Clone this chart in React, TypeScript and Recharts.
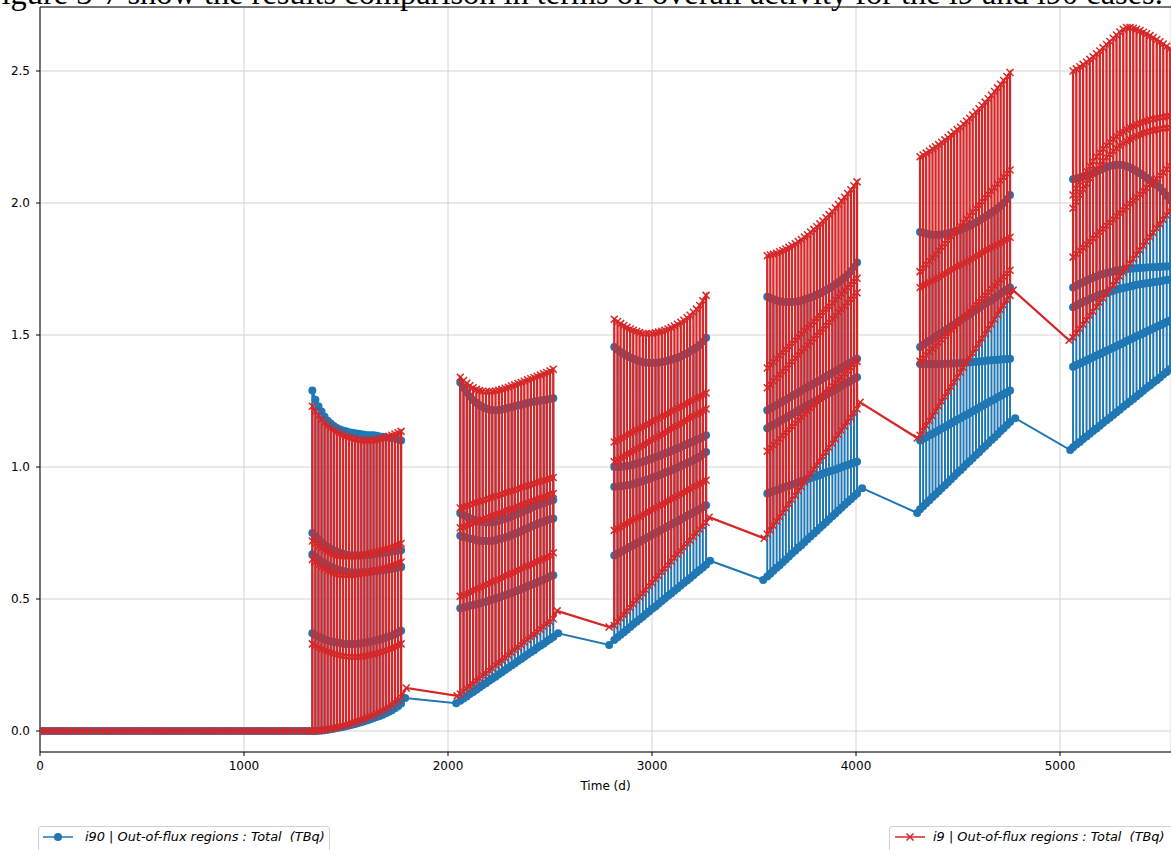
import React from 'react';
import { LineChart, Line, XAxis, YAxis, CartesianGrid, ReferenceLine, Label } from 'recharts';

const BLUE = '#1f77b4';
const RED = '#d62728';

const X_MAX = 5544;
const Y_MIN = -0.0795;
const Y_MAX = 2.7424;
const X_TICKS = [0, 1000, 2000, 3000, 4000, 5000];
const Y_TICKS = [0, 0.5, 1.0, 1.5, 2.0, 2.5];

// Days before the first irradiation cycle: both cases sit at zero
const FLAT_T = [
  0, 20, 40, 60, 80, 100, 120, 140, 160, 180, 200, 220, 240, 260, 280, 300, 320, 340, 360, 380,
  400, 420, 440, 460, 480, 500, 520, 540, 560, 580, 600, 620, 640, 660, 680, 700, 720, 740, 760, 780,
  800, 820, 840, 860, 880, 900, 920, 940, 960, 980, 1000, 1020, 1040, 1060, 1080, 1100, 1120, 1140,
  1160, 1180, 1200, 1220, 1240, 1260, 1280, 1300, 1320,
];
const FLAT_LEVEL = 0;

// Cycle 1
const C1_T = [1335, 1350, 1365, 1380, 1395, 1410, 1425, 1440, 1455, 1470, 1485, 1500, 1515, 1530, 1545, 1560, 1575, 1590, 1605, 1620, 1635, 1650, 1665, 1680, 1695, 1710, 1725, 1740, 1755, 1770];
const C1_I90_BASE = [0, 0, 0.001, 0.002, 0.003, 0.005, 0.007, 0.009, 0.011, 0.013, 0.015, 0.018, 0.021, 0.024, 0.027, 0.03, 0.033, 0.037, 0.041, 0.045, 0.049, 0.053, 0.057, 0.062, 0.067, 0.073, 0.079, 0.086, 0.094, 0.104];
const C1_I90_TOP = [1.29, 1.255, 1.23, 1.21, 1.19, 1.175, 1.165, 1.155, 1.148, 1.142, 1.138, 1.135, 1.132, 1.13, 1.128, 1.126, 1.124, 1.122, 1.12, 1.12, 1.12, 1.118, 1.116, 1.115, 1.113, 1.111, 1.11, 1.108, 1.105, 1.1];
const C1_I90_M1 = [0.75, 0.738, 0.726, 0.715, 0.705, 0.697, 0.69, 0.684, 0.679, 0.675, 0.671, 0.668, 0.666, 0.665, 0.665, 0.665, 0.665, 0.666, 0.667, 0.668, 0.67, 0.671, 0.673, 0.675, 0.676, 0.678, 0.68, 0.682, 0.684, 0.685];
const C1_I90_M2 = [0.67, 0.66, 0.65, 0.642, 0.635, 0.628, 0.622, 0.617, 0.613, 0.609, 0.606, 0.603, 0.601, 0.6, 0.6, 0.6, 0.6, 0.601, 0.602, 0.603, 0.605, 0.606, 0.608, 0.61, 0.611, 0.613, 0.615, 0.617, 0.619, 0.62];
const C1_I90_M3 = [0.37, 0.363, 0.357, 0.352, 0.347, 0.343, 0.34, 0.337, 0.335, 0.333, 0.331, 0.33, 0.33, 0.33, 0.33, 0.331, 0.332, 0.334, 0.336, 0.338, 0.341, 0.344, 0.347, 0.35, 0.354, 0.358, 0.362, 0.367, 0.373, 0.38];
const C1_I9_BASE = [0, 0, 0.001, 0.003, 0.005, 0.007, 0.009, 0.011, 0.014, 0.017, 0.02, 0.023, 0.026, 0.03, 0.034, 0.038, 0.042, 0.046, 0.051, 0.056, 0.061, 0.066, 0.072, 0.078, 0.084, 0.091, 0.099, 0.107, 0.117, 0.128];
const C1_I9_TOP = [1.23, 1.21, 1.195, 1.18, 1.168, 1.157, 1.148, 1.14, 1.133, 1.127, 1.121, 1.116, 1.112, 1.108, 1.105, 1.103, 1.101, 1.1, 1.1, 1.1, 1.101, 1.103, 1.106, 1.109, 1.112, 1.116, 1.12, 1.125, 1.13, 1.135];
const C1_I9_M1 = [0.72, 0.71, 0.7, 0.692, 0.685, 0.678, 0.672, 0.667, 0.663, 0.661, 0.66, 0.66, 0.66, 0.66, 0.661, 0.663, 0.665, 0.668, 0.671, 0.674, 0.677, 0.68, 0.684, 0.687, 0.69, 0.694, 0.697, 0.701, 0.705, 0.71];
const C1_I9_M2 = [0.65, 0.64, 0.63, 0.622, 0.615, 0.608, 0.602, 0.597, 0.593, 0.591, 0.59, 0.59, 0.59, 0.59, 0.591, 0.593, 0.595, 0.598, 0.601, 0.604, 0.607, 0.61, 0.614, 0.617, 0.62, 0.624, 0.627, 0.631, 0.635, 0.64];
const C1_I9_M3 = [0.33, 0.323, 0.316, 0.31, 0.305, 0.3, 0.296, 0.292, 0.289, 0.286, 0.284, 0.282, 0.281, 0.28, 0.28, 0.28, 0.281, 0.283, 0.285, 0.288, 0.291, 0.294, 0.298, 0.302, 0.306, 0.31, 0.314, 0.319, 0.324, 0.33];

// Cycle 2
const C2_T = [2060, 2076, 2092, 2107, 2123, 2139, 2154, 2170, 2186, 2202, 2217, 2233, 2249, 2264, 2280, 2296, 2312, 2327, 2343, 2359, 2374, 2390, 2406, 2422, 2437, 2453, 2469, 2484, 2500, 2516];
const C2_I90_BASE = [0.115, 0.123, 0.131, 0.14, 0.148, 0.156, 0.165, 0.173, 0.181, 0.19, 0.198, 0.206, 0.215, 0.223, 0.231, 0.24, 0.248, 0.256, 0.265, 0.273, 0.281, 0.29, 0.298, 0.306, 0.315, 0.323, 0.331, 0.34, 0.348, 0.356];
const C2_I90_TOP = [1.32, 1.3, 1.282, 1.267, 1.254, 1.243, 1.234, 1.227, 1.222, 1.218, 1.216, 1.215, 1.216, 1.218, 1.221, 1.224, 1.227, 1.23, 1.233, 1.236, 1.239, 1.242, 1.245, 1.247, 1.25, 1.252, 1.254, 1.256, 1.258, 1.26];
const C2_I90_M1 = [0.825, 0.818, 0.812, 0.806, 0.801, 0.797, 0.794, 0.791, 0.79, 0.79, 0.791, 0.793, 0.796, 0.8, 0.804, 0.808, 0.813, 0.818, 0.823, 0.828, 0.834, 0.839, 0.845, 0.85, 0.855, 0.86, 0.864, 0.868, 0.872, 0.875];
const C2_I90_M2 = [0.74, 0.736, 0.732, 0.729, 0.726, 0.723, 0.721, 0.72, 0.72, 0.72, 0.721, 0.723, 0.726, 0.729, 0.733, 0.737, 0.742, 0.747, 0.752, 0.757, 0.763, 0.768, 0.774, 0.779, 0.784, 0.789, 0.794, 0.798, 0.802, 0.805];
const C2_I90_M3 = [0.465, 0.468, 0.471, 0.474, 0.477, 0.48, 0.483, 0.487, 0.49, 0.494, 0.498, 0.502, 0.506, 0.51, 0.514, 0.519, 0.523, 0.528, 0.533, 0.538, 0.543, 0.548, 0.553, 0.558, 0.563, 0.568, 0.574, 0.579, 0.585, 0.59];
const C2_I9_BASE = [0.14, 0.15, 0.16, 0.169, 0.179, 0.189, 0.199, 0.209, 0.218, 0.228, 0.238, 0.248, 0.258, 0.267, 0.277, 0.287, 0.297, 0.307, 0.316, 0.326, 0.336, 0.346, 0.356, 0.365, 0.375, 0.385, 0.395, 0.405, 0.414, 0.425];
const C2_I9_TOP = [1.34, 1.328, 1.317, 1.308, 1.3, 1.294, 1.29, 1.287, 1.285, 1.285, 1.286, 1.288, 1.291, 1.294, 1.298, 1.302, 1.307, 1.311, 1.316, 1.32, 1.325, 1.33, 1.334, 1.339, 1.344, 1.348, 1.353, 1.358, 1.364, 1.37];
const C2_I9_M1 = [0.845, 0.849, 0.853, 0.857, 0.861, 0.865, 0.869, 0.873, 0.877, 0.881, 0.885, 0.889, 0.893, 0.897, 0.901, 0.905, 0.909, 0.913, 0.917, 0.921, 0.925, 0.929, 0.933, 0.937, 0.941, 0.945, 0.949, 0.953, 0.957, 0.96];
const C2_I9_M2 = [0.77, 0.774, 0.779, 0.783, 0.788, 0.792, 0.797, 0.801, 0.806, 0.81, 0.815, 0.819, 0.824, 0.828, 0.833, 0.837, 0.842, 0.846, 0.851, 0.855, 0.86, 0.864, 0.869, 0.873, 0.878, 0.882, 0.887, 0.891, 0.896, 0.9];
const C2_I9_M3 = [0.51, 0.515, 0.521, 0.526, 0.532, 0.537, 0.543, 0.548, 0.554, 0.559, 0.565, 0.57, 0.576, 0.581, 0.587, 0.592, 0.598, 0.603, 0.609, 0.614, 0.62, 0.625, 0.631, 0.636, 0.642, 0.647, 0.653, 0.658, 0.664, 0.675];

// Cycle 3
const C3_T = [2815, 2831, 2846, 2862, 2877, 2893, 2908, 2924, 2939, 2955, 2970, 2986, 3001, 3017, 3032, 3048, 3063, 3079, 3094, 3110, 3125, 3141, 3156, 3172, 3187, 3203, 3218, 3234, 3249, 3265];
const C3_I90_BASE = [0.345, 0.355, 0.365, 0.374, 0.384, 0.394, 0.404, 0.414, 0.423, 0.433, 0.443, 0.453, 0.463, 0.472, 0.482, 0.492, 0.502, 0.512, 0.521, 0.531, 0.541, 0.551, 0.561, 0.57, 0.58, 0.59, 0.6, 0.61, 0.619, 0.63];
const C3_I90_TOP = [1.455, 1.445, 1.436, 1.428, 1.421, 1.415, 1.41, 1.405, 1.401, 1.398, 1.396, 1.395, 1.395, 1.395, 1.396, 1.398, 1.4, 1.403, 1.406, 1.41, 1.414, 1.419, 1.425, 1.431, 1.438, 1.445, 1.453, 1.462, 1.475, 1.49];
const C3_I90_M1 = [1.0, 1.0, 1.001, 1.002, 1.004, 1.006, 1.009, 1.012, 1.016, 1.02, 1.024, 1.028, 1.032, 1.037, 1.041, 1.046, 1.051, 1.056, 1.061, 1.066, 1.071, 1.076, 1.082, 1.087, 1.092, 1.097, 1.103, 1.108, 1.114, 1.12];
const C3_I90_M2 = [0.925, 0.926, 0.927, 0.929, 0.931, 0.933, 0.936, 0.939, 0.943, 0.947, 0.951, 0.955, 0.959, 0.964, 0.968, 0.973, 0.978, 0.983, 0.988, 0.993, 0.998, 1.004, 1.009, 1.015, 1.02, 1.026, 1.032, 1.039, 1.048, 1.057];
const C3_I90_M3 = [0.665, 0.672, 0.678, 0.685, 0.691, 0.698, 0.704, 0.711, 0.717, 0.724, 0.73, 0.737, 0.743, 0.75, 0.756, 0.763, 0.769, 0.776, 0.782, 0.789, 0.795, 0.802, 0.808, 0.815, 0.821, 0.828, 0.834, 0.841, 0.848, 0.855];
const C3_I9_BASE = [0.4, 0.413, 0.427, 0.44, 0.454, 0.467, 0.481, 0.494, 0.508, 0.521, 0.534, 0.548, 0.561, 0.575, 0.588, 0.602, 0.615, 0.628, 0.642, 0.655, 0.669, 0.682, 0.696, 0.709, 0.722, 0.736, 0.749, 0.763, 0.776, 0.79];
const C3_I9_TOP = [1.56, 1.551, 1.543, 1.536, 1.529, 1.523, 1.518, 1.513, 1.509, 1.506, 1.505, 1.505, 1.506, 1.508, 1.511, 1.514, 1.518, 1.523, 1.528, 1.534, 1.541, 1.548, 1.556, 1.565, 1.575, 1.586, 1.598, 1.612, 1.63, 1.65];
const C3_I9_M1 = [1.095, 1.101, 1.108, 1.114, 1.121, 1.127, 1.133, 1.14, 1.146, 1.152, 1.159, 1.165, 1.172, 1.178, 1.184, 1.191, 1.197, 1.203, 1.21, 1.216, 1.223, 1.229, 1.235, 1.242, 1.248, 1.254, 1.261, 1.267, 1.274, 1.28];
const C3_I9_M2 = [1.02, 1.027, 1.034, 1.041, 1.048, 1.054, 1.061, 1.068, 1.075, 1.082, 1.089, 1.096, 1.103, 1.11, 1.117, 1.123, 1.13, 1.137, 1.144, 1.151, 1.158, 1.165, 1.172, 1.179, 1.186, 1.192, 1.199, 1.206, 1.213, 1.22];
const C3_I9_M3 = [0.76, 0.767, 0.773, 0.78, 0.786, 0.793, 0.799, 0.806, 0.812, 0.819, 0.826, 0.832, 0.839, 0.845, 0.852, 0.858, 0.865, 0.871, 0.878, 0.884, 0.891, 0.898, 0.904, 0.911, 0.917, 0.924, 0.93, 0.937, 0.943, 0.95];

// Cycle 4
const C4_T = [3565, 3580, 3595, 3611, 3626, 3641, 3656, 3671, 3686, 3702, 3717, 3732, 3747, 3762, 3777, 3793, 3808, 3823, 3838, 3853, 3868, 3884, 3899, 3914, 3929, 3944, 3959, 3975, 3990, 4005];
const C4_I90_BASE = [0.585, 0.596, 0.607, 0.618, 0.628, 0.639, 0.65, 0.661, 0.672, 0.683, 0.694, 0.704, 0.715, 0.726, 0.737, 0.748, 0.759, 0.77, 0.78, 0.791, 0.802, 0.813, 0.824, 0.835, 0.846, 0.857, 0.867, 0.878, 0.889, 0.9];
const C4_I90_TOP = [1.645, 1.64, 1.635, 1.631, 1.628, 1.626, 1.625, 1.625, 1.625, 1.626, 1.628, 1.631, 1.634, 1.638, 1.642, 1.647, 1.652, 1.658, 1.664, 1.67, 1.677, 1.684, 1.692, 1.7, 1.709, 1.718, 1.729, 1.742, 1.758, 1.775];
const C4_I90_M1 = [1.215, 1.222, 1.228, 1.235, 1.242, 1.249, 1.255, 1.262, 1.269, 1.276, 1.282, 1.289, 1.296, 1.302, 1.309, 1.316, 1.323, 1.329, 1.336, 1.343, 1.349, 1.356, 1.363, 1.37, 1.376, 1.383, 1.39, 1.396, 1.403, 1.41];
const C4_I90_M2 = [1.147, 1.154, 1.16, 1.167, 1.174, 1.18, 1.187, 1.194, 1.2, 1.207, 1.214, 1.22, 1.227, 1.234, 1.24, 1.247, 1.254, 1.26, 1.267, 1.274, 1.28, 1.287, 1.294, 1.3, 1.307, 1.314, 1.32, 1.327, 1.334, 1.34];
const C4_I90_M3 = [0.9, 0.904, 0.908, 0.912, 0.917, 0.921, 0.925, 0.929, 0.933, 0.937, 0.941, 0.946, 0.95, 0.954, 0.958, 0.962, 0.966, 0.97, 0.975, 0.979, 0.983, 0.987, 0.991, 0.995, 0.999, 1.004, 1.008, 1.012, 1.016, 1.02];
const C4_I9_BASE = [0.745, 0.761, 0.778, 0.794, 0.811, 0.827, 0.843, 0.86, 0.876, 0.892, 0.909, 0.925, 0.942, 0.958, 0.974, 0.991, 1.007, 1.023, 1.04, 1.056, 1.073, 1.089, 1.105, 1.122, 1.138, 1.154, 1.171, 1.187, 1.204, 1.22];
const C4_I9_TOP = [1.8, 1.803, 1.806, 1.81, 1.815, 1.82, 1.826, 1.832, 1.839, 1.846, 1.854, 1.862, 1.871, 1.88, 1.89, 1.9, 1.91, 1.921, 1.932, 1.944, 1.956, 1.968, 1.981, 1.994, 2.008, 2.022, 2.036, 2.05, 2.065, 2.08];
const C4_I9_M1 = [1.375, 1.387, 1.398, 1.41, 1.422, 1.434, 1.445, 1.457, 1.469, 1.48, 1.492, 1.504, 1.516, 1.527, 1.539, 1.551, 1.563, 1.574, 1.586, 1.598, 1.609, 1.621, 1.633, 1.645, 1.656, 1.668, 1.68, 1.691, 1.703, 1.715];
const C4_I9_M2 = [1.3, 1.312, 1.325, 1.337, 1.35, 1.362, 1.374, 1.387, 1.399, 1.412, 1.424, 1.437, 1.449, 1.461, 1.474, 1.486, 1.499, 1.511, 1.523, 1.536, 1.548, 1.561, 1.573, 1.586, 1.598, 1.61, 1.623, 1.635, 1.648, 1.66];
const C4_I9_M3 = [1.06, 1.072, 1.083, 1.095, 1.107, 1.119, 1.13, 1.142, 1.154, 1.166, 1.177, 1.189, 1.201, 1.212, 1.224, 1.236, 1.248, 1.259, 1.271, 1.283, 1.294, 1.306, 1.318, 1.33, 1.341, 1.353, 1.365, 1.377, 1.388, 1.4];

// Cycle 5
const C5_T = [4314, 4329, 4344, 4360, 4375, 4390, 4405, 4420, 4436, 4451, 4466, 4481, 4496, 4512, 4527, 4542, 4557, 4572, 4588, 4603, 4618, 4633, 4648, 4664, 4679, 4694, 4709, 4724, 4740, 4755];
const C5_I90_BASE = [0.84, 0.851, 0.863, 0.874, 0.886, 0.897, 0.908, 0.92, 0.931, 0.942, 0.954, 0.965, 0.977, 0.988, 0.999, 1.011, 1.022, 1.033, 1.045, 1.056, 1.068, 1.079, 1.09, 1.102, 1.113, 1.124, 1.136, 1.147, 1.159, 1.17];
const C5_I90_TOP = [1.89, 1.887, 1.884, 1.882, 1.88, 1.88, 1.88, 1.881, 1.883, 1.885, 1.888, 1.891, 1.895, 1.899, 1.904, 1.909, 1.914, 1.92, 1.926, 1.933, 1.94, 1.947, 1.955, 1.963, 1.971, 1.98, 1.99, 2.0, 2.015, 2.03];
const C5_I90_M1 = [1.455, 1.463, 1.471, 1.478, 1.486, 1.494, 1.502, 1.509, 1.517, 1.525, 1.533, 1.54, 1.548, 1.556, 1.564, 1.571, 1.579, 1.587, 1.595, 1.602, 1.61, 1.618, 1.626, 1.633, 1.641, 1.649, 1.657, 1.664, 1.672, 1.68];
const C5_I90_M2 = [1.39, 1.39, 1.39, 1.39, 1.39, 1.39, 1.39, 1.39, 1.391, 1.391, 1.392, 1.392, 1.393, 1.394, 1.395, 1.396, 1.397, 1.398, 1.399, 1.4, 1.401, 1.402, 1.403, 1.404, 1.405, 1.406, 1.407, 1.408, 1.409, 1.41];
const C5_I90_M3 = [1.1, 1.107, 1.113, 1.12, 1.126, 1.133, 1.139, 1.146, 1.152, 1.159, 1.166, 1.172, 1.179, 1.185, 1.192, 1.198, 1.205, 1.211, 1.218, 1.224, 1.231, 1.238, 1.244, 1.251, 1.257, 1.264, 1.27, 1.277, 1.283, 1.29];
const C5_I9_BASE = [1.12, 1.138, 1.157, 1.175, 1.193, 1.211, 1.23, 1.248, 1.266, 1.285, 1.303, 1.321, 1.339, 1.358, 1.376, 1.394, 1.412, 1.431, 1.449, 1.467, 1.486, 1.504, 1.522, 1.54, 1.559, 1.577, 1.595, 1.613, 1.632, 1.65];
const C5_I9_TOP = [2.175, 2.182, 2.189, 2.197, 2.205, 2.213, 2.221, 2.23, 2.239, 2.248, 2.258, 2.268, 2.278, 2.288, 2.299, 2.31, 2.321, 2.333, 2.345, 2.357, 2.369, 2.382, 2.395, 2.408, 2.422, 2.436, 2.45, 2.464, 2.479, 2.494];
const C5_I9_M1 = [1.74, 1.753, 1.767, 1.78, 1.793, 1.806, 1.82, 1.833, 1.846, 1.859, 1.873, 1.886, 1.899, 1.912, 1.926, 1.939, 1.952, 1.966, 1.979, 1.992, 2.005, 2.019, 2.032, 2.045, 2.058, 2.072, 2.085, 2.098, 2.111, 2.125];
const C5_I9_M2 = [1.68, 1.687, 1.693, 1.7, 1.706, 1.713, 1.719, 1.726, 1.732, 1.739, 1.746, 1.752, 1.759, 1.765, 1.772, 1.778, 1.785, 1.791, 1.798, 1.804, 1.811, 1.818, 1.824, 1.831, 1.837, 1.844, 1.85, 1.857, 1.863, 1.87];
const C5_I9_M3 = [1.4, 1.412, 1.424, 1.436, 1.448, 1.459, 1.471, 1.483, 1.495, 1.507, 1.519, 1.531, 1.543, 1.555, 1.567, 1.578, 1.59, 1.602, 1.614, 1.626, 1.638, 1.65, 1.662, 1.674, 1.686, 1.697, 1.709, 1.721, 1.733, 1.745];

// Cycle 6 (runs past the right edge of the plot)
const C6_T = [5064, 5080, 5097, 5113, 5130, 5146, 5162, 5179, 5195, 5211, 5228, 5244, 5261, 5277, 5293, 5310, 5326, 5343, 5359, 5375, 5392, 5408, 5424, 5441, 5457, 5474, 5490, 5506, 5523, 5539];
const C6_I90_BASE = [1.075, 1.085, 1.095, 1.106, 1.116, 1.126, 1.136, 1.146, 1.156, 1.167, 1.177, 1.187, 1.197, 1.207, 1.217, 1.228, 1.238, 1.248, 1.258, 1.268, 1.278, 1.289, 1.299, 1.309, 1.319, 1.329, 1.339, 1.35, 1.36, 1.37];
const C6_I90_TOP = [2.09, 2.093, 2.096, 2.1, 2.104, 2.109, 2.114, 2.119, 2.125, 2.131, 2.136, 2.14, 2.143, 2.145, 2.145, 2.143, 2.139, 2.134, 2.128, 2.121, 2.113, 2.105, 2.096, 2.087, 2.078, 2.068, 2.058, 2.044, 2.027, 2.01];
const C6_I90_M1 = [1.68, 1.687, 1.694, 1.7, 1.706, 1.712, 1.717, 1.722, 1.727, 1.731, 1.735, 1.738, 1.741, 1.744, 1.746, 1.748, 1.75, 1.751, 1.752, 1.753, 1.754, 1.755, 1.756, 1.757, 1.757, 1.758, 1.758, 1.759, 1.759, 1.76];
const C6_I90_M2 = [1.605, 1.612, 1.619, 1.625, 1.631, 1.637, 1.642, 1.647, 1.652, 1.656, 1.66, 1.664, 1.668, 1.672, 1.675, 1.678, 1.681, 1.684, 1.687, 1.69, 1.692, 1.694, 1.696, 1.698, 1.7, 1.702, 1.704, 1.706, 1.708, 1.71];
const C6_I90_M3 = [1.38, 1.386, 1.392, 1.398, 1.404, 1.41, 1.416, 1.422, 1.428, 1.434, 1.44, 1.446, 1.452, 1.458, 1.464, 1.47, 1.477, 1.483, 1.489, 1.495, 1.501, 1.507, 1.513, 1.519, 1.525, 1.531, 1.537, 1.543, 1.549, 1.555];
const C6_I9_BASE = [1.49, 1.507, 1.523, 1.54, 1.556, 1.573, 1.589, 1.606, 1.622, 1.639, 1.655, 1.672, 1.689, 1.705, 1.722, 1.738, 1.755, 1.771, 1.788, 1.804, 1.821, 1.838, 1.854, 1.871, 1.887, 1.904, 1.92, 1.937, 1.953, 1.97];
const C6_I9_TOP = [2.5, 2.508, 2.516, 2.525, 2.534, 2.544, 2.554, 2.565, 2.576, 2.588, 2.6, 2.612, 2.624, 2.636, 2.648, 2.658, 2.665, 2.665, 2.662, 2.658, 2.653, 2.647, 2.641, 2.634, 2.627, 2.619, 2.611, 2.602, 2.594, 2.585];
const C6_I9_M1 = [2.03, 2.055, 2.08, 2.1, 2.12, 2.14, 2.158, 2.175, 2.19, 2.205, 2.218, 2.23, 2.242, 2.252, 2.262, 2.27, 2.278, 2.285, 2.291, 2.297, 2.302, 2.307, 2.311, 2.315, 2.318, 2.321, 2.324, 2.326, 2.328, 2.33];
const C6_I9_M2 = [1.98, 2.005, 2.03, 2.052, 2.073, 2.093, 2.111, 2.128, 2.144, 2.159, 2.172, 2.185, 2.196, 2.207, 2.217, 2.226, 2.234, 2.241, 2.248, 2.254, 2.259, 2.264, 2.268, 2.272, 2.275, 2.278, 2.28, 2.282, 2.284, 2.285];
const C6_I9_M3 = [1.795, 1.807, 1.819, 1.831, 1.843, 1.854, 1.866, 1.878, 1.89, 1.902, 1.914, 1.926, 1.938, 1.95, 1.962, 1.973, 1.985, 1.997, 2.009, 2.021, 2.033, 2.045, 2.057, 2.069, 2.081, 2.092, 2.104, 2.116, 2.128, 2.14];

// Decay between cycles: end of one cycle, start of the next (pairs)
const I90_LINK_T = [1790, 2040, 2540, 2790, 3285, 3545, 4030, 4300, 4780, 5050];
const I90_LINK_V = [0.125, 0.105, 0.37, 0.326, 0.645, 0.572, 0.92, 0.826, 1.185, 1.064];
const I9_LINK_T = [1795, 2045, 2535, 2790, 3280, 3550, 4020, 4300, 4770, 5045];
const I9_LINK_V = [0.163, 0.133, 0.455, 0.394, 0.81, 0.73, 1.245, 1.11, 1.67, 1.48];

type Pt = { t: number; v: number };
type Cycle = { t: number[]; base: number[]; mids: number[][]; top: number[] };

const I90_CYCLES: Cycle[] = [
  { t: C1_T, base: C1_I90_BASE, mids: [C1_I90_M3, C1_I90_M2, C1_I90_M1], top: C1_I90_TOP },
  { t: C2_T, base: C2_I90_BASE, mids: [C2_I90_M3, C2_I90_M2, C2_I90_M1], top: C2_I90_TOP },
  { t: C3_T, base: C3_I90_BASE, mids: [C3_I90_M3, C3_I90_M2, C3_I90_M1], top: C3_I90_TOP },
  { t: C4_T, base: C4_I90_BASE, mids: [C4_I90_M3, C4_I90_M2, C4_I90_M1], top: C4_I90_TOP },
  { t: C5_T, base: C5_I90_BASE, mids: [C5_I90_M3, C5_I90_M2, C5_I90_M1], top: C5_I90_TOP },
  { t: C6_T, base: C6_I90_BASE, mids: [C6_I90_M3, C6_I90_M2, C6_I90_M1], top: C6_I90_TOP },
];

const I9_CYCLES: Cycle[] = [
  { t: C1_T, base: C1_I9_BASE, mids: [C1_I9_M3, C1_I9_M2, C1_I9_M1], top: C1_I9_TOP },
  { t: C2_T, base: C2_I9_BASE, mids: [C2_I9_M3, C2_I9_M2, C2_I9_M1], top: C2_I9_TOP },
  { t: C3_T, base: C3_I9_BASE, mids: [C3_I9_M3, C3_I9_M2, C3_I9_M1], top: C3_I9_TOP },
  { t: C4_T, base: C4_I9_BASE, mids: [C4_I9_M3, C4_I9_M2, C4_I9_M1], top: C4_I9_TOP },
  { t: C5_T, base: C5_I9_BASE, mids: [C5_I9_M3, C5_I9_M2, C5_I9_M1], top: C5_I9_TOP },
  { t: C6_T, base: C6_I9_BASE, mids: [C6_I9_M3, C6_I9_M2, C6_I9_M1], top: C6_I9_TOP },
];

// Each output day walks up (or back down) through its sub-step values,
// which is what draws the vertical strokes inside a cycle.
function buildSeries(cycles: Cycle[], linkT: number[], linkV: number[]): Pt[] {
  const pts: Pt[] = FLAT_T.map((t) => ({ t, v: FLAT_LEVEL }));
  cycles.forEach((c, k) => {
    c.t.forEach((t, i) => {
      const column = [c.base[i], ...c.mids.map((m) => m[i]), c.top[i]];
      const seq = i % 2 === 0 ? column : column.slice().reverse();
      seq.forEach((v) => pts.push({ t, v }));
    });
    if (k < cycles.length - 1) {
      pts.push({ t: linkT[2 * k], v: linkV[2 * k] });
      pts.push({ t: linkT[2 * k + 1], v: linkV[2 * k + 1] });
    }
  });
  return pts;
}

const i90Data = buildSeries(I90_CYCLES, I90_LINK_T, I90_LINK_V);
const i9Data = buildSeries(I9_CYCLES, I9_LINK_T, I9_LINK_V);

const FONT = "'DejaVu Sans', sans-serif";
const W = 1171;
const H = 850;
const MARGIN = { top: 7, right: 0, bottom: 48, left: 0 };

const CircleDot = (p: any) => {
  if (p.cx == null || p.cy == null) return null;
  return <circle key={`c-${p.index}`} cx={p.cx} cy={p.cy} r={4} fill={BLUE} />;
};

const CrossDot = (p: any) => {
  if (p.cx == null || p.cy == null) return null;
  const s = 3.5;
  const { cx, cy } = p;
  return (
    <path
      key={`x-${p.index}`}
      d={`M${cx - s},${cy - s}L${cx + s},${cy + s}M${cx - s},${cy + s}L${cx + s},${cy - s}`}
      stroke={RED}
      strokeWidth={1.5}
      fill="none"
    />
  );
};

const legendText: React.CSSProperties = {
  fontFamily: FONT,
  fontStyle: 'italic',
  fontSize: 12.9,
  whiteSpace: 'pre',
  color: '#000',
  position: 'absolute',
  top: 2,
};

const layer: React.CSSProperties = { position: 'absolute', left: 0, top: 0 };

export default function App() {
  return (
    <div style={{ position: 'absolute', left: 0, top: 0, width: W, height: H, overflow: 'hidden', background: '#fff' }}>
      {/* i90 case with grid and axes */}
      <div style={layer}>
        <LineChart width={W} height={H} margin={MARGIN}>
          <CartesianGrid stroke="#cfcfcf" strokeWidth={0.9} />
          <XAxis
            type="number"
            dataKey="t"
            domain={[0, X_MAX]}
            ticks={X_TICKS}
            allowDataOverflow
            height={50}
            tickSize={4}
            tickMargin={5}
            axisLine={{ stroke: '#000' }}
            tickLine={{ stroke: '#000' }}
            tick={{ fill: '#000', fontSize: 12, fontFamily: FONT }}
          >
            <Label value="Time (d)" position="insideBottom" offset={12} style={{ fill: '#000', fontSize: 12, fontFamily: FONT }} />
          </XAxis>
          <YAxis
            type="number"
            domain={[Y_MIN, Y_MAX]}
            ticks={Y_TICKS}
            allowDataOverflow
            width={40}
            tickSize={4}
            tickMargin={6}
            axisLine={{ stroke: '#000' }}
            tickLine={{ stroke: '#000' }}
            tick={{ fill: '#000', fontSize: 12, fontFamily: FONT }}
            tickFormatter={(v: number) => v.toFixed(1)}
          />
          <ReferenceLine y={Y_MAX} stroke="#000" strokeWidth={1} />
          <Line
            data={i90Data}
            dataKey="v"
            type="linear"
            stroke={BLUE}
            strokeWidth={2}
            dot={CircleDot}
            activeDot={false}
            isAnimationActive={false}
          />
        </LineChart>
      </div>

      {/* i9 case drawn over it, markers and all, on the same scales */}
      <div style={layer}>
        <LineChart width={W} height={H} margin={MARGIN}>
          <XAxis type="number" dataKey="t" domain={[0, X_MAX]} ticks={X_TICKS} allowDataOverflow height={50} tick={false} tickLine={false} axisLine={false} />
          <YAxis type="number" domain={[Y_MIN, Y_MAX]} ticks={Y_TICKS} allowDataOverflow width={40} tick={false} tickLine={false} axisLine={false} />
          <Line
            data={i9Data}
            dataKey="v"
            type="linear"
            stroke={RED}
            strokeWidth={2.3}
            dot={CrossDot}
            activeDot={false}
            isAnimationActive={false}
          />
        </LineChart>
      </div>

      <svg width={W} height={14} style={layer}>
        <text x={-16.5} y={4} fontFamily="'Liberation Serif', 'Times New Roman', serif" fontSize={32.4} fill="#000">
          Figure 3-7 show the results comparison in terms of overall activity for the i9 and i90 cases.
        </text>
      </svg>

      <div style={{ position: 'absolute', left: 38, top: 826, width: 290, height: 34, border: '1px solid #d0d0d0', borderRadius: 3, background: '#fff' }}>
        <svg width={36} height={20} style={{ position: 'absolute', left: 3, top: 0 }}>
          <line x1={1} y1={10} x2={31} y2={10} stroke={BLUE} strokeWidth={1.5} />
          <circle cx={16} cy={10} r={4} fill={BLUE} />
        </svg>
        <span style={{ ...legendText, left: 46 }}>i90 | Out-of-flux regions : Total  (TBq)</span>
      </div>

      <div style={{ position: 'absolute', left: 889, top: 826, width: 320, height: 34, border: '1px solid #d0d0d0', borderRadius: 3, background: '#fff' }}>
        <svg width={36} height={20} style={{ position: 'absolute', left: 4, top: 0 }}>
          <line x1={1} y1={10} x2={31} y2={10} stroke={RED} strokeWidth={1.5} />
          <path d="M12.5,6.5L19.5,13.5M12.5,13.5L19.5,6.5" stroke={RED} strokeWidth={1.5} />
        </svg>
        <span style={{ ...legendText, left: 43 }}>i9 | Out-of-flux regions : Total  (TBq)</span>
      </div>
    </div>
  );
}
